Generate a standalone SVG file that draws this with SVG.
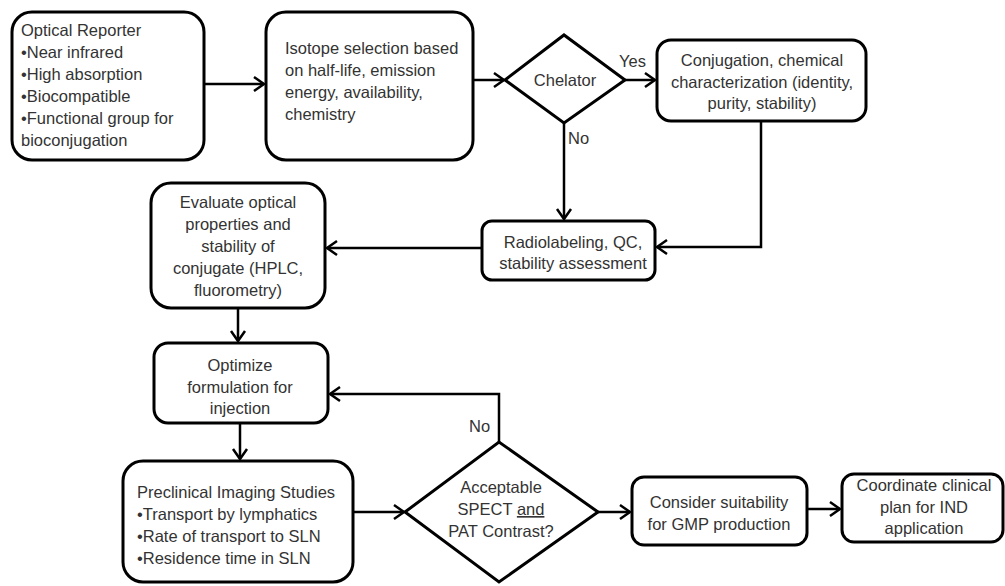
<svg xmlns="http://www.w3.org/2000/svg" width="1005" height="586" viewBox="0 0 1005 586">
<style>
.box{fill:#fff;stroke:#000;stroke-width:3}
.t{font-family:"Liberation Sans",Arial,sans-serif;font-size:16.5px;fill:#333}
.c{text-anchor:middle}
.ln{fill:none;stroke:#000;stroke-width:2.5}
</style>
<defs>
<marker id="ah" markerUnits="userSpaceOnUse" markerWidth="16" markerHeight="18" refX="12" refY="9" orient="auto">
<path d="M2,2 L12,9 L2,16" fill="none" stroke="#000" stroke-width="2.5"/>
</marker>
</defs>
<rect width="1005" height="586" fill="#fff"/>
<g id="connectors">
<line class="ln" x1="204" y1="84" x2="264" y2="84" marker-end="url(#ah)"/>
<line class="ln" x1="473" y1="80" x2="504" y2="80" marker-end="url(#ah)"/>
<line class="ln" x1="625" y1="80" x2="655" y2="80" marker-end="url(#ah)"/>
<line class="ln" x1="564" y1="123" x2="564" y2="219" marker-end="url(#ah)"/>
<polyline class="ln" points="761,121 761,247 657,247" marker-end="url(#ah)"/>
<line class="ln" x1="482" y1="248" x2="327" y2="248" marker-end="url(#ah)"/>
<line class="ln" x1="238" y1="308" x2="238" y2="341" marker-end="url(#ah)"/>
<polyline class="ln" points="499,442 499,394 330,394" marker-end="url(#ah)"/>
<line class="ln" x1="240" y1="423" x2="240" y2="459" marker-end="url(#ah)"/>
<line class="ln" x1="353" y1="512" x2="404" y2="512" marker-end="url(#ah)"/>
<line class="ln" x1="598" y1="512" x2="630" y2="512" marker-end="url(#ah)"/>
<line class="ln" x1="807" y1="509" x2="840" y2="509" marker-end="url(#ah)"/>
<text class="t" x="619" y="67">Yes</text>
<text class="t" x="568" y="144">No</text>
<text class="t" x="469" y="432">No</text>
</g>
<g id="optical">
<rect class="box" x="12" y="12" width="192" height="148" rx="20"/>
<text class="t" x="21" y="36">Optical Reporter</text>
<text class="t" x="21" y="58">•Near infrared</text>
<text class="t" x="21" y="80">•High absorption</text>
<text class="t" x="21" y="102">•Biocompatible</text>
<text class="t" x="21" y="124">•Functional group for</text>
<text class="t" x="21" y="146">bioconjugation</text>
</g>
<g id="isotope">
<rect class="box" x="266" y="12" width="207" height="148" rx="20"/>
<text class="t" x="285" y="54">Isotope selection based</text>
<text class="t" x="285" y="76">on half-life, emission</text>
<text class="t" x="285" y="98">energy, availability,</text>
<text class="t" x="285" y="120">chemistry</text>
</g>
<g id="chelator">
<polygon class="box" points="505,80 564,35 625,80 564,123"/>
<text class="t c" x="565" y="86">Chelator</text>
</g>
<g id="conjugation">
<rect class="box" x="657" y="40" width="209" height="81" rx="14"/>
<text class="t c" x="762" y="66">Conjugation, chemical</text>
<text class="t c" x="762" y="88">characterization (identity,</text>
<text class="t c" x="762" y="109">purity, stability)</text>
</g>
<g id="radiolabeling">
<rect class="box" x="482" y="221" width="173" height="59" rx="10"/>
<text class="t c" x="573" y="248">Radiolabeling, QC,</text>
<text class="t c" x="573" y="269">stability assessment</text>
</g>
<g id="evaluate">
<rect class="box" x="151" y="183" width="174" height="125" rx="20"/>
<text class="t c" x="238" y="208">Evaluate optical</text>
<text class="t c" x="238" y="230">properties and</text>
<text class="t c" x="238" y="252">stability of</text>
<text class="t c" x="238" y="274">conjugate (HPLC,</text>
<text class="t c" x="238" y="296">fluorometry)</text>
</g>
<g id="optimize">
<rect class="box" x="154" y="343" width="174" height="80" rx="14"/>
<text class="t c" x="240" y="371">Optimize</text>
<text class="t c" x="240" y="393">formulation for</text>
<text class="t c" x="240" y="414">injection</text>
</g>
<g id="preclinical">
<rect class="box" x="123" y="461" width="230" height="121" rx="20"/>
<text class="t" x="137" y="498">Preclinical Imaging Studies</text>
<text class="t" x="137" y="520">•Transport by lymphatics</text>
<text class="t" x="137" y="542">•Rate of transport to SLN</text>
<text class="t" x="137" y="564">•Residence time in SLN</text>
</g>
<g id="acceptable">
<polygon class="box" points="405,512 499,442 598,512 499,582"/>
<text class="t c" x="501" y="493">Acceptable</text>
<text class="t c" x="501" y="515">SPECT <tspan text-decoration="underline">and</tspan></text>
<text class="t c" x="501" y="537">PAT Contrast?</text>
</g>
<g id="consider">
<rect class="box" x="632" y="477" width="175" height="68" rx="12"/>
<text class="t c" x="719" y="508">Consider suitability</text>
<text class="t c" x="719" y="530">for GMP production</text>
</g>
<g id="coordinate">
<rect class="box" x="842" y="474" width="161" height="68" rx="12"/>
<text class="t c" x="924" y="491">Coordinate clinical</text>
<text class="t c" x="924" y="513">plan for IND</text>
<text class="t c" x="924" y="534">application</text>
</g>
</svg>
